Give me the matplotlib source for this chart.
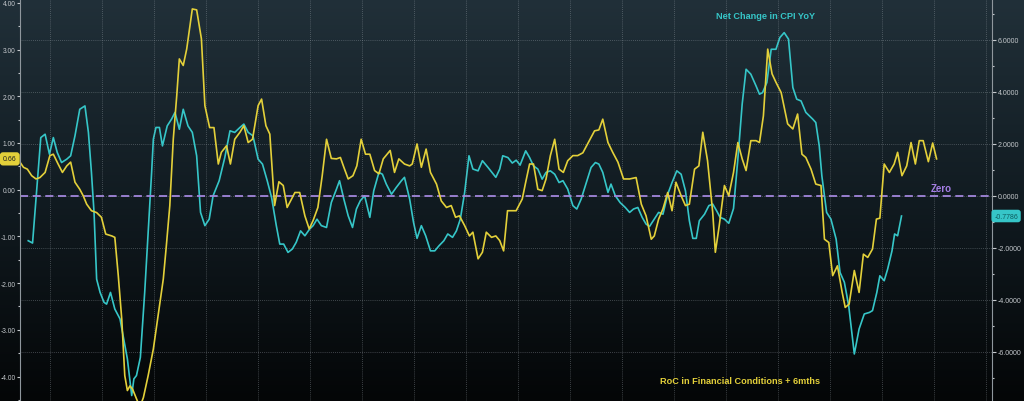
import matplotlib
matplotlib.use("Agg")
import matplotlib.pyplot as plt
import numpy as np
from matplotlib.colors import LinearSegmentedColormap
from matplotlib.ticker import MultipleLocator, FormatStrFormatter

plt.rcParams['font.family'] = ['Liberation Sans', 'DejaVu Sans']

# month index of each traced point (monthly series, no dates shown on the chart)
fin_cond_month = [
    0.0, 0.8, 1.7, 2.7, 3.7, 4.6, 5.8, 6.9, 7.7, 8.8,
    9.8, 10.8, 11.7, 12.7, 13.8, 14.6, 15.4, 16.5, 17.7, 18.8,
    19.8, 21.2, 21.9, 22.7, 23.5, 24.2, 24.8, 25.4, 26.0, 26.9,
    27.7, 28.5, 29.6, 30.8, 31.9, 33.1, 33.8, 34.6, 35.4, 36.2,
    36.8, 37.7, 38.5, 39.8, 40.8, 41.9, 42.7, 43.8, 44.8, 45.8,
    46.5, 47.7, 48.6, 49.6, 50.8, 51.7, 52.7, 53.7, 55.0, 55.8,
    56.8, 57.7, 58.8, 59.8, 60.8, 61.7, 62.7, 63.5, 64.6, 65.8,
    66.8, 67.7, 68.8, 69.8, 70.8, 71.9, 73.1, 74.0, 74.8, 75.8,
    76.9, 77.8, 78.8, 79.8, 80.8, 81.9, 82.9, 83.9, 85.5, 86.5,
    87.5, 88.8, 90.0, 90.6, 91.7, 92.7, 93.8, 94.8, 96.2, 97.3,
    98.5, 99.6, 100.6, 101.5, 102.7, 103.8, 104.6, 105.8, 106.8, 107.7,
    108.9, 109.9, 110.8, 111.7, 112.6, 113.5, 114.6, 116.0, 116.8, 117.7,
    118.6, 119.6, 120.6, 121.5, 122.5, 123.5, 124.5, 125.5, 126.5, 127.7,
    128.8, 130.0, 131.1, 132.7, 133.7, 134.6, 135.8, 136.9, 138.1, 139.4,
    140.8, 142.3, 143.5, 144.6, 145.8, 146.5, 147.5, 148.5, 149.6, 150.6,
    151.5, 152.7, 153.7, 154.6, 155.8, 156.8, 157.7, 158.8, 160.0, 160.6,
    161.5, 162.7, 163.7, 164.8, 165.8, 166.8, 167.7, 168.8, 170.0, 170.8,
    171.7, 172.7, 173.7, 174.6, 175.8, 177.3, 178.5, 179.6, 180.6, 181.5,
    182.7, 183.8, 185.0, 185.8, 186.8, 187.7, 188.8, 189.9, 190.6, 191.5,
    192.7, 193.8, 194.8, 195.8, 196.9, 197.8, 198.6, 199.6, 200.8, 201.9,
    202.7, 203.7, 204.8, 205.8, 206.8, 207.7, 208.6, 209.8, 210.8, 211.7,
]
fin_cond = [
    0.59, 0.48, 0.44, 0.30, 0.23, 0.26, 0.37, 0.73, 0.76, 0.55,
    0.37, 0.51, 0.59, 0.16, 0.01, -0.13, -0.31, -0.45, -0.49, -0.59,
    -0.95, -0.99, -1.02, -1.84, -2.77, -3.98, -4.30, -4.20, -4.27, -4.48,
    -4.65, -4.45, -3.98, -3.41, -2.70, -1.91, -1.20, -0.34, 1.08, 2.01,
    2.80, 2.66, 3.01, 3.87, 3.85, 3.23, 1.80, 1.33, 1.33, 0.55,
    0.80, 0.94, 0.55, 1.08, 1.23, 1.37, 1.01, 1.08, 1.80, 1.94,
    1.37, 1.19, -0.34, 0.17, 0.09, -0.38, -0.20, -0.06, -0.06, -0.56,
    -0.84, -0.66, -0.38, 0.30, 1.08, 0.67, 0.66, 0.69, 0.48, 0.23,
    0.30, 0.51, 1.08, 0.76, 0.76, 0.41, 0.34, 0.66, 0.84, 0.37,
    0.66, 0.55, 0.51, 0.55, 0.98, 0.48, 0.87, 0.37, 0.12, -0.24,
    -0.38, -0.34, -0.59, -0.56, -0.77, -0.99, -0.91, -1.48, -1.34, -0.91,
    -1.02, -0.99, -1.09, -1.31, -0.45, -0.45, -0.45, -0.20, 0.16, 0.55,
    0.55, 0.01, -0.02, 0.23, 0.73, 1.08, 0.44, 0.37, 0.62, 0.73,
    0.73, 0.79, 0.98, 1.26, 1.28, 1.51, 1.01, 0.80, 0.59, 0.23,
    0.23, 0.26, -0.31, -0.56, -1.06, -0.99, -0.63, -0.41, -0.06, -0.45,
    0.16, -0.13, -0.34, -0.31, 0.44, 0.51, 1.23, 0.62, -0.49, -1.34,
    -0.77, 0.09, -0.13, 0.37, 1.01, 0.66, 0.41, 1.05, 1.05, 1.01,
    1.58, 3.01, 2.48, 2.30, 2.08, 1.41, 1.30, 1.62, 0.76, 0.69,
    0.44, 0.12, 0.09, -1.06, -1.13, -1.84, -1.63, -2.20, -2.52, -2.45,
    -1.73, -2.20, -1.38, -1.45, -1.27, -0.63, -0.61, 0.55, 0.37, 0.55,
    0.80, 0.30, 0.51, 1.01, 0.55, 1.05, 1.05, 0.60, 1.00, 0.66,
]

cpi_month = [
    1.9, 2.9, 3.7, 4.8, 5.8, 6.8, 7.7, 8.6, 9.6, 10.8,
    11.7, 12.7, 13.8, 15.0, 15.8, 16.5, 17.1, 17.7, 18.5, 19.4,
    20.0, 20.9, 21.9, 23.1, 23.8, 24.8, 25.8, 26.3, 26.9, 27.8,
    28.8, 29.6, 30.4, 30.8, 31.4, 32.2, 32.9, 34.0, 35.0, 35.8,
    36.8, 37.7, 38.8, 39.8, 40.8, 41.7, 42.7, 43.7, 44.6, 46.0,
    47.3, 48.5, 49.6, 50.8, 51.7, 52.7, 53.8, 55.0, 56.0, 57.1,
    58.1, 59.2, 60.0, 60.9, 61.9, 62.9, 63.8, 64.8, 65.8, 66.9,
    67.7, 68.6, 69.6, 70.8, 71.9, 73.1, 73.8, 74.8, 75.8, 76.8,
    77.7, 78.6, 79.6, 80.8, 81.7, 82.9, 83.7, 84.6, 85.8, 86.9,
    88.1, 88.8, 90.0, 90.9, 91.7, 92.7, 93.7, 94.8, 95.8, 96.8,
    97.9, 98.8, 99.9, 100.8, 101.7, 102.7, 103.7, 104.6, 105.8, 106.8,
    108.1, 109.9, 110.8, 111.5, 112.7, 113.7, 114.6, 115.5, 116.8, 117.7,
    118.6, 119.6, 120.6, 121.5, 122.5, 123.5, 124.5, 125.4, 126.5, 127.7,
    128.6, 129.6, 130.8, 131.9, 132.9, 133.7, 134.6, 135.8, 136.5, 137.5,
    138.6, 139.8, 140.8, 141.7, 142.7, 143.7, 144.6, 145.4, 146.5, 147.5,
    148.5, 149.6, 150.6, 151.7, 152.7, 153.7, 154.6, 155.4, 156.2, 156.9,
    158.1, 159.1, 160.0, 160.9, 161.7, 162.7, 163.7, 164.8, 165.8, 166.8,
    167.7, 168.8, 170.0, 170.8, 171.5, 172.5, 173.5, 174.6, 175.5, 176.5,
    177.5, 178.5, 179.4, 180.4, 181.5, 183.1, 183.8, 184.6, 185.2, 186.3,
    187.3, 188.5, 189.4, 190.4, 191.4, 192.7, 193.8, 195.0, 196.2, 196.9,
    197.9, 198.6, 199.6, 200.4, 201.4, 202.0, 202.7, 203.6,
]
cpi_yoy = [
    -1.73, -1.82, -0.13, 2.24, 2.37, 1.60, 2.24, 1.67, 1.28, 1.41,
    1.54, 2.31, 3.33, 3.46, 2.44, 0.90, -0.64, -3.21, -3.72, -4.10,
    -4.17, -3.72, -4.36, -4.74, -5.38, -6.28, -7.69, -7.05, -6.92, -6.22,
    -3.72, -1.41, 0.90, 2.18, 2.63, 2.63, 1.92, 2.69, 2.95, 3.21,
    2.56, 3.33, 2.69, 2.44, 1.54, -0.64, -1.15, -0.90, 0.00, 0.58,
    1.47, 2.50, 2.44, 2.63, 2.76, 2.44, 2.31, 1.41, 1.22, 0.58,
    -0.06, -1.15, -1.86, -1.86, -2.18, -2.05, -1.79, -1.35, -1.54, -1.28,
    -1.15, -0.90, -1.15, -1.22, -0.26, 0.26, 0.58, -0.13, -0.77, -1.22,
    -0.51, -0.19, 0.00, -0.83, 0.19, 0.90, 0.83, 0.45, 0.06, 0.32,
    0.58, 0.71, -0.13, -1.03, -1.64, -1.15, -1.54, -2.12, -2.12, -1.92,
    -1.73, -1.47, -1.60, -1.35, -0.90, 0.13, 1.54, 1.03, 0.96, 1.35,
    1.09, 0.71, 1.03, 1.54, 1.47, 1.26, 1.37, 1.18, 1.73, 1.47,
    1.15, 1.03, 0.64, 0.90, 0.96, 0.83, 0.51, 0.58, 0.26, -0.38,
    -0.51, -0.13, 0.51, 1.09, 1.28, 1.22, 0.90, 0.13, 0.45, 0.00,
    -0.26, -0.45, -0.64, -0.51, -0.45, -0.83, -1.09, -1.18, -0.90, -0.64,
    -0.71, 0.06, 0.51, 0.96, 0.83, 0.19, -0.96, -1.64, -1.64, -0.96,
    -0.71, -0.38, -0.32, -0.58, -0.83, -0.90, -1.06, -0.49, 1.41, 3.53,
    4.87, 4.68, 4.23, 3.91, 3.97, 4.36, 5.64, 5.64, 6.09, 6.28,
    6.03, 4.17, 3.72, 3.65, 3.21, 2.95, 2.82, 1.92, 0.77, -0.64,
    -0.90, -1.67, -2.95, -3.33, -4.23, -6.09, -5.13, -4.55, -4.49, -4.42,
    -3.72, -3.08, -3.27, -2.82, -2.12, -1.47, -1.54, -0.7786,
]

YELLOW = '#e3d03a'
CYAN = '#36c6c8'
PURPLE = '#a286dc'
TICK_COL = '#c4c8cc'

fig = plt.figure(figsize=(10.24, 4.02), dpi=100)

# dark gradient background over the whole figure
bg = fig.add_axes([0, 0, 1, 1], zorder=-10)
cmap = LinearSegmentedColormap.from_list('bg', ['#213039', '#111b21', '#040607'])
bg.imshow(np.linspace(0, 1, 256).reshape(-1, 1), aspect='auto', cmap=cmap,
          extent=[0, 1, 0, 1])
bg.axis('off')

ax = fig.add_axes([20 / 1024, 0, 972 / 1024, 1])
ax2 = ax.twinx()
ax.set_zorder(ax2.get_zorder() + 1)
ax.patch.set_visible(False)

ax2.plot(cpi_month, cpi_yoy, color=CYAN, lw=1.2)
ax.plot(fin_cond_month, fin_cond, color=YELLOW, lw=1.2)
ax2.axhline(0, color=PURPLE, lw=1.3, ls=(0, (4.5, 2.5)))

ax.set_xlim(0, 224.5)
ax.set_ylim(-4.524, 4.083)
ax2.set_ylim(-7.90, 7.575)

# vertical grid once a year
ax.set_xticks(np.arange(7, 224, 12))
ax.tick_params(axis='x', length=0, labelbottom=False)
ax.grid(axis='x', ls=(0, (1, 1.5)), color='#9aa3aa', lw=0.6, alpha=0.5)

ax.yaxis.set_major_locator(MultipleLocator(1))
ax.yaxis.set_minor_locator(MultipleLocator(0.5))
ax.yaxis.set_major_formatter(FormatStrFormatter('%.2f'))
ax.tick_params(axis='y', which='both', direction='out', colors=TICK_COL,
               labelsize=4.8, pad=0.6, width=0.8)
ax.tick_params(axis='y', which='major', length=2.5)
ax.tick_params(axis='y', which='minor', length=1.5)

ax2.yaxis.set_major_locator(MultipleLocator(2))
ax2.yaxis.set_minor_locator(MultipleLocator(1))
ax2.yaxis.set_major_formatter(FormatStrFormatter('%.4f'))
ax2.tick_params(axis='y', which='both', direction='out', colors=TICK_COL,
                labelsize=5, pad=1, width=0.8)
ax2.tick_params(axis='y', which='major', length=3)
ax2.tick_params(axis='y', which='minor', length=1.5)
ax2.grid(axis='y', which='major', ls=(0, (1, 1.5)), color='#9aa3aa', lw=0.6, alpha=0.5)
ax2.set_axisbelow(True)

for s in ['top', 'bottom', 'right']:
    ax.spines[s].set_visible(False)
for s in ['top', 'bottom', 'left']:
    ax2.spines[s].set_visible(False)
ax.spines['left'].set_color('#8f979d')
ax.spines['left'].set_linewidth(0.8)
ax2.spines['right'].set_color('#8f979d')
ax2.spines['right'].set_linewidth(0.8)

# last-value badges
ax.text(-0.0105, fin_cond[-1], '%.2f' % fin_cond[-1], transform=ax.get_yaxis_transform(),
        ha='center', va='center', fontsize=5, color='#222222', clip_on=False,
        bbox=dict(boxstyle='round,pad=0.45', fc=YELLOW, ec='none'))
ax2.text(1.0145, cpi_yoy[-1], '%.4f' % cpi_yoy[-1], transform=ax2.get_yaxis_transform(),
         ha='center', va='center', fontsize=5, color='#0d5c5e', clip_on=False,
         bbox=dict(boxstyle='round,pad=0.4', fc=CYAN, ec='none'))

ax.text(0.7675, 0.960, 'Net Change in CPI YoY', transform=ax.transAxes,
        ha='center', va='center', fontsize=6.6, fontweight='bold', color=CYAN)
ax.text(0.7407, 0.052, 'RoC in Financial Conditions + 6mths', transform=ax.transAxes,
        ha='center', va='center', fontsize=6.6, fontweight='bold', color=YELLOW)
ax2.text(212.8, 0.3, 'Zero', ha='center', va='center', fontsize=7,
         fontweight='bold', color='#a57ee6')

fig.savefig('out.png', dpi=100)
